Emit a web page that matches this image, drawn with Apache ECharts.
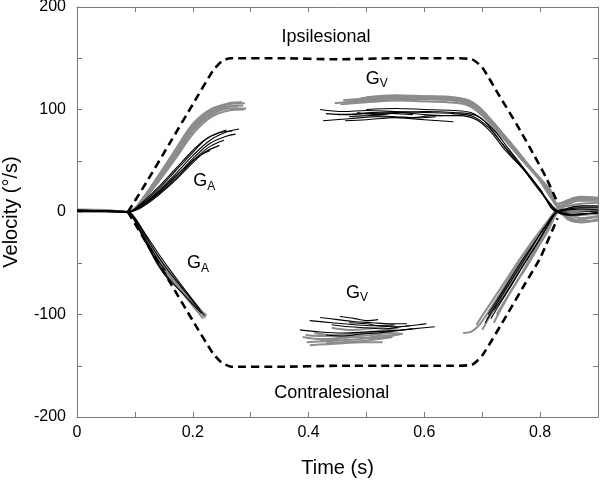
<!DOCTYPE html>
<html>
<head>
<meta charset="utf-8">
<script src="https://cdn.jsdelivr.net/npm/echarts@6/dist/echarts.min.js"></script>
<style>html,body{margin:0;padding:0;background:#fff}#c{width:600px;height:482px}</style>
</head>
<body>
<div id="c"></div>
<script>
// ---- axis tick labels ----
const xTickLabels = ['0', '0.2', '0.4', '0.6', '0.8'];
const yTickLabels = ['-200', '-100', '0', '100', '200'];

// ---- dashed envelope [time, velocity] ----
const envelopeUpper = [[0.088,0],[0.12,29],[0.16,67],[0.2,105],[0.235,138],[0.25,147],[0.265,150],[0.35,150],[0.45,149],[0.55,150],[0.65,150],[0.682,149],[0.7,141],[0.73,113],[0.76,85],[0.79,55],[0.81,34],[0.831,8]];
const envelopeLower = [[0.088,0],[0.12,-30],[0.16,-68],[0.2,-106],[0.235,-138],[0.25,-147],[0.268,-151],[0.35,-151],[0.45,-150],[0.55,-150],[0.65,-150],[0.682,-149],[0.7,-140],[0.744,-99],[0.774,-70],[0.8,-45],[0.83,-6]];

// ---- upper G_A (ipsilesional acceleration), grey ----
const gaUpGrey1 = [[0,1.5],[0.05,1],[0.088,0],[0.105,6],[0.14,33],[0.17,58],[0.2,84],[0.23,99],[0.262,105],[0.29,106]];
const gaUpGrey2 = [[0,2],[0.05,1.5],[0.088,0],[0.105,5],[0.14,31],[0.17,55],[0.2,80],[0.23,96],[0.262,103],[0.287,104]];
const gaUpGrey3 = [[0,0.5],[0.05,0.5],[0.088,0],[0.105,7],[0.14,35],[0.17,61],[0.2,86],[0.23,100],[0.262,106],[0.285,107]];
const gaUpGrey4 = [[0,1],[0.05,1],[0.088,0],[0.105,5],[0.14,29],[0.17,52],[0.2,76],[0.23,92],[0.262,99],[0.289,100]];
const gaUpGrey5 = [[0,2.5],[0.05,2],[0.088,0],[0.105,6],[0.14,33],[0.17,57],[0.2,82],[0.23,97],[0.258,103],[0.278,103]];
const gaUpGrey6 = [[0,1],[0.05,0.5],[0.088,0],[0.105,5],[0.14,30],[0.17,54],[0.2,79],[0.23,94],[0.262,101],[0.292,101]];
// ---- upper G_A, black ----
const gaUpBlack1 = [[0,1],[0.05,0.5],[0.088,0],[0.11,6],[0.14,20],[0.17,37],[0.2,55],[0.23,70],[0.258,78],[0.28,81]];
const gaUpBlack2 = [[0,1.5],[0.05,1],[0.088,0],[0.11,5],[0.14,18],[0.17,34],[0.2,52],[0.23,67],[0.258,74],[0.274,76]];
const gaUpBlack3 = [[0,0.5],[0.05,0.5],[0.088,0],[0.11,7],[0.14,22],[0.17,40],[0.2,58],[0.225,72],[0.258,80]];
const gaUpBlack4 = [[0,2],[0.05,1],[0.088,0],[0.11,4],[0.14,16],[0.17,31],[0.2,48],[0.22,58],[0.246,65]];
const gaUpBlack5 = [[0,1],[0.05,1],[0.088,0],[0.11,6],[0.14,19],[0.17,35],[0.2,50],[0.215,56],[0.23,60]];
const gaUpBlack6 = [[0,0.5],[0.05,0.5],[0.088,0],[0.11,5],[0.14,17],[0.17,32],[0.2,50],[0.23,64],[0.254,70]];
const gaUpBlack7 = [[0,1.5],[0.05,1],[0.088,0],[0.11,8],[0.14,24],[0.17,42],[0.2,60],[0.22,70],[0.245,77],[0.268,79]];

// ---- lower G_A (contralesional acceleration), grey ----
const gaLoGrey1 = [[0,1],[0.05,0.5],[0.088,0],[0.1,-7],[0.112,-20],[0.13,-38],[0.149,-54],[0.175,-71],[0.198,-87],[0.222,-103]];
const gaLoGrey2 = [[0,1.5],[0.05,1],[0.088,0],[0.1,-6],[0.112,-18],[0.13,-35],[0.149,-51],[0.175,-69],[0.198,-85],[0.22,-100]];
const gaLoGrey3 = [[0,0.5],[0.05,0.5],[0.088,0],[0.1,-8],[0.112,-22],[0.13,-40],[0.149,-57],[0.175,-74],[0.198,-90],[0.218,-104]];
const gaLoGrey4 = [[0,2],[0.05,1],[0.088,0],[0.1,-6],[0.112,-19],[0.13,-37],[0.149,-53],[0.175,-72],[0.2,-89],[0.224,-101]];
const gaLoGrey5 = [[0,1],[0.05,1],[0.088,0],[0.1,-7],[0.112,-21],[0.13,-39],[0.149,-55],[0.175,-70],[0.198,-86],[0.216,-98]];
// ---- lower G_A, black ----
const gaLoBlack1 = [[0,1],[0.05,0.5],[0.088,0],[0.1,-9],[0.12,-30],[0.14,-50],[0.16,-66],[0.18,-78],[0.2,-90],[0.215,-99]];
const gaLoBlack2 = [[0,1.5],[0.05,1],[0.088,0],[0.1,-8],[0.12,-28],[0.14,-47],[0.153,-57]];
const gaLoBlack3 = [[0,0.5],[0.05,0.5],[0.088,0],[0.1,-7],[0.12,-25],[0.14,-43],[0.16,-59],[0.18,-73],[0.2,-87],[0.22,-101]];
const gaLoBlack4 = [[0,1],[0.05,1],[0.088,0],[0.1,-9],[0.12,-31],[0.14,-52],[0.158,-66]];
const gaLoBlack5 = [[0,2],[0.05,1],[0.088,0],[0.1,-6],[0.12,-23],[0.14,-40],[0.16,-56],[0.18,-71],[0.2,-86],[0.212,-95]];

// ---- upper G_V (ipsilesional plateau & deceleration), grey ----
const gvUpGrey1 = [[0.455,105],[0.5,107],[0.55,109],[0.6,110],[0.65,109],[0.685,105],[0.713,90],[0.743,68],[0.777,46],[0.817,22],[0.83,8],[0.845,10],[0.86,14],[0.88,14],[0.9,13]];
const gvUpGrey2 = [[0.49,111],[0.53,113],[0.58,113],[0.63,112],[0.67,110],[0.695,102],[0.72,86],[0.75,66],[0.78,45],[0.815,22],[0.83,6],[0.85,8],[0.865,11],[0.9,11]];
const gvUpGrey3 = [[0.5,112],[0.55,114],[0.6,113],[0.65,112],[0.68,108],[0.705,96],[0.73,80],[0.76,60],[0.79,38],[0.82,16],[0.832,4],[0.85,-4],[0.865,-8],[0.885,-6],[0.9,-5]];
const gvUpGrey4 = [[0.47,108],[0.52,110],[0.57,111],[0.62,110],[0.66,108],[0.69,101],[0.715,87],[0.745,67],[0.775,47],[0.81,25],[0.83,5],[0.85,-2],[0.87,-6],[0.9,-4]];
const gvUpGrey5 = [[0.445,106],[0.49,108],[0.54,109],[0.59,108],[0.64,107],[0.675,104],[0.7,94],[0.73,76],[0.76,57],[0.795,34],[0.828,7],[0.845,3],[0.86,5],[0.9,5]];
const gvUpGrey6 = [[0.52,111],[0.57,112],[0.62,111],[0.66,110],[0.69,104],[0.715,90],[0.745,70],[0.78,46],[0.815,22],[0.83,8],[0.85,12],[0.87,15],[0.9,14]];
const gvUpGrey7 = [[0.46,109],[0.51,111],[0.56,112],[0.61,111],[0.655,110],[0.688,103],[0.712,89],[0.742,69],[0.772,49],[0.805,28],[0.83,4],[0.85,-7],[0.87,-10],[0.9,-8]];
// ---- upper G_V, black ----
const gvUpBlack1 = [[0.42,100],[0.46,98],[0.5,99],[0.55,98],[0.6,97],[0.65,96],[0.685,93],[0.71,83],[0.73,70],[0.75,55],[0.775,40],[0.8,22],[0.829,1],[0.845,2],[0.87,3],[0.9,2]];
const gvUpBlack2 = [[0.425,89],[0.47,91],[0.52,93],[0.57,92],[0.62,94],[0.66,94],[0.69,90],[0.715,78],[0.74,60],[0.77,42],[0.8,20],[0.83,0],[0.85,-3],[0.87,-2],[0.9,-1]];
const gvUpBlack3 = [[0.463,89],[0.5,90],[0.55,92],[0.6,90],[0.65,88]];
const gvUpBlack4 = [[0.484,97],[0.52,95],[0.56,97],[0.6,95],[0.63,94]];
const gvUpBlack5 = [[0.45,95],[0.5,96],[0.55,97],[0.6,98],[0.65,97],[0.69,94],[0.72,80],[0.745,62],[0.77,44],[0.8,22],[0.83,0],[0.85,4],[0.87,6],[0.9,6]];
const gvUpBlack6 = [[0.47,93],[0.51,94],[0.55,93],[0.59,92],[0.62,93]];
const gvUpBlack7 = [[0.43,96],[0.47,95],[0.51,97],[0.55,96],[0.58,95]];
const gvUpBlack8 = [[0.5,100],[0.55,101],[0.6,100],[0.65,99],[0.68,97],[0.705,88],[0.73,70],[0.76,50],[0.79,29],[0.83,1],[0.86,-3],[0.9,0]];

// ---- lower G_V (contralesional plateau), grey ----
const gvLoGrey1 = [[0.39,-122],[0.42,-124],[0.45,-123],[0.48,-121],[0.51,-120],[0.54,-118],[0.563,-119]];
const gvLoGrey2 = [[0.397,-127],[0.43,-126],[0.46,-125],[0.49,-124],[0.52,-121],[0.55,-120]];
const gvLoGrey3 = [[0.402,-130],[0.43,-129],[0.46,-128],[0.49,-127],[0.528,-127]];
const gvLoGrey4 = [[0.41,-118],[0.44,-120],[0.47,-119],[0.5,-117],[0.53,-116],[0.555,-113]];
const gvLoGrey5 = [[0.42,-125],[0.45,-124],[0.48,-122],[0.51,-123],[0.54,-121],[0.56,-119]];
const gvLoGrey6 = [[0.395,-120],[0.42,-121],[0.45,-121],[0.48,-120],[0.5,-118],[0.52,-117]];
const gvLoGrey7 = [[0.43,-128],[0.46,-127],[0.49,-126],[0.52,-124],[0.545,-122]];
const gvLoGrey8 = [[0.44,-113],[0.47,-115],[0.5,-114],[0.53,-112],[0.55,-110]];
// ---- lower G_V, black ----
const gvLoBlack1 = [[0.385,-115],[0.42,-117],[0.46,-118],[0.5,-117],[0.54,-116],[0.58,-114],[0.618,-112]];
const gvLoBlack2 = [[0.402,-106],[0.44,-108],[0.48,-110],[0.51,-111],[0.546,-110]];
const gvLoBlack3 = [[0.42,-103],[0.45,-105],[0.48,-107],[0.51,-108],[0.54,-109],[0.57,-109]];
const gvLoBlack4 = [[0.454,-102],[0.48,-104],[0.5,-106],[0.52,-105]];
const gvLoBlack5 = [[0.44,-110],[0.47,-112],[0.5,-113],[0.53,-114],[0.56,-112],[0.59,-110],[0.604,-109]];
const gvLoBlack6 = [[0.43,-120],[0.46,-121],[0.49,-119],[0.52,-118],[0.55,-116],[0.58,-114]];
const gvLoBlack7 = [[0.47,-108],[0.5,-109],[0.52,-111],[0.55,-112],[0.575,-111]];

// ---- contralesional deceleration (rising), grey ----
const riseGrey1 = [[0.667,-118],[0.68,-117],[0.695,-110],[0.71,-98],[0.73,-80],[0.75,-62],[0.77,-45],[0.79,-28],[0.81,-12],[0.83,2],[0.845,8],[0.86,13],[0.88,14],[0.9,13]];
const riseGrey2 = [[0.7,-115],[0.715,-100],[0.735,-82],[0.755,-64],[0.775,-47],[0.795,-30],[0.815,-13],[0.832,2],[0.85,-6],[0.865,-9],[0.9,-8]];
const riseGrey3 = [[0.708,-105],[0.725,-88],[0.745,-70],[0.765,-52],[0.785,-34],[0.805,-16],[0.83,3],[0.85,6],[0.87,8],[0.9,9]];
const riseGrey4 = [[0.72,-108],[0.735,-92],[0.755,-72],[0.775,-55],[0.795,-36],[0.815,-17],[0.832,0],[0.85,-4],[0.87,-3],[0.9,-2]];
const riseGrey5 = [[0.69,-110],[0.705,-97],[0.725,-80],[0.745,-63],[0.765,-46],[0.79,-26],[0.812,-10],[0.83,2],[0.85,10],[0.87,12],[0.9,12]];
const riseGrey6 = [[0.725,-100],[0.74,-86],[0.76,-68],[0.78,-48],[0.8,-28],[0.82,-10],[0.833,0],[0.85,-8],[0.87,-10],[0.9,-7]];
// ---- rising, black ----
const riseBlack1 = [[0.705,-108],[0.72,-94],[0.74,-76],[0.76,-58],[0.78,-40],[0.8,-22],[0.815,-10],[0.83,1],[0.85,3],[0.87,4],[0.9,4]];
const riseBlack2 = [[0.71,-100],[0.728,-84],[0.748,-66],[0.768,-48],[0.79,-30],[0.81,-13],[0.83,0],[0.85,-2],[0.9,-1]];
const riseBlack3 = [[0.715,-104],[0.73,-90],[0.75,-72],[0.77,-53],[0.79,-35],[0.81,-16],[0.83,0],[0.85,2],[0.9,2]];
const riseBlack4 = [[0.72,-96],[0.74,-80],[0.76,-62],[0.78,-44],[0.8,-26],[0.818,-9],[0.83,0],[0.86,0],[0.9,1]];

// ---- annotation anchors [time, velocity] ----
const annotations = [
  {text: 'Ipsilesional', at: [0.43, 171]},
  {text: 'Contralesional', at: [0.44, -177]},
];
const subLabels = [
  {main: 'G', sub: 'V', at: [0.523, 130]},
  {main: 'G', sub: 'V', at: [0.489, -79]},
  {main: 'G', sub: 'A', at: [0.225, 30]},
  {main: 'G', sub: 'A', at: [0.214, -50]},
];

const greyTraces = [gaUpGrey1,gaUpGrey2,gaUpGrey3,gaUpGrey4,gaUpGrey5,gaUpGrey6,
  gaLoGrey1,gaLoGrey2,gaLoGrey3,gaLoGrey4,gaLoGrey5,
  gvUpGrey1,gvUpGrey2,gvUpGrey3,gvUpGrey4,gvUpGrey5,gvUpGrey6,gvUpGrey7,
  gvLoGrey1,gvLoGrey2,gvLoGrey3,gvLoGrey4,gvLoGrey5,gvLoGrey6,gvLoGrey7,gvLoGrey8,
  riseGrey1,riseGrey2,riseGrey3,riseGrey4,riseGrey5,riseGrey6];
const blackTraces = [gaUpBlack1,gaUpBlack2,gaUpBlack3,gaUpBlack4,gaUpBlack5,gaUpBlack6,gaUpBlack7,
  gaLoBlack1,gaLoBlack2,gaLoBlack3,gaLoBlack4,gaLoBlack5,
  gvUpBlack1,gvUpBlack2,gvUpBlack3,gvUpBlack4,gvUpBlack5,gvUpBlack6,gvUpBlack7,gvUpBlack8,
  gvLoBlack1,gvLoBlack2,gvLoBlack3,gvLoBlack4,gvLoBlack5,gvLoBlack6,gvLoBlack7,
  riseBlack1,riseBlack2,riseBlack3,riseBlack4];

const FONT = 'Liberation Sans, Arial, sans-serif';
const AXIS_COLOR = '#7a7a7a';

const series = [];
greyTraces.forEach(d => series.push({type:'line', data:d, smooth:0.35, symbol:'none', silent:true,
  lineStyle:{color:'#8c8c8c', width:2}, z:2}));
blackTraces.forEach(d => series.push({type:'line', data:d, smooth:0.35, symbol:'none', silent:true,
  lineStyle:{color:'#000', width:1.1}, z:3}));
[envelopeUpper, envelopeLower].forEach(d => series.push({type:'line', data:d, smooth:0.2, symbol:'none', silent:true,
  lineStyle:{color:'#000', width:2.6, type:[8,5]}, z:4}));

const chart = echarts.init(document.getElementById('c'), null, {renderer:'canvas'});
const baseX = {type:'value', min:0, max:0.9, interval:0.1, splitLine:{show:false},
  axisLine:{onZero:false, lineStyle:{color:AXIS_COLOR, width:1}}};
const baseY = {type:'value', min:-200, max:200, interval:50, splitLine:{show:false},
  axisLine:{onZero:false, lineStyle:{color:AXIS_COLOR, width:1}}};
chart.setOption({
  animation:false,
  backgroundColor:'#fff',
  grid:{left:77, right:2, top:7, bottom:65, containLabel:false, outerBoundsMode:'none'},
  xAxis:[
    Object.assign({}, baseX, {position:'bottom',
      axisTick:{inside:true, length:5, lineStyle:{color:AXIS_COLOR}},
      axisLabel:{color:'#000', fontFamily:FONT, fontSize:16, margin:8,
        formatter: v => { const s = (Math.round(v*10)/10).toString(); return xTickLabels.includes(s) ? s : ''; }},
      name:'Time (s)', nameLocation:'middle', nameGap:41,
      nameTextStyle:{color:'#000', fontFamily:FONT, fontSize:20}}),
    Object.assign({}, baseX, {position:'top',
      axisTick:{inside:true, length:5, lineStyle:{color:AXIS_COLOR}}, axisLabel:{show:false}})
  ],
  yAxis:[
    Object.assign({}, baseY, {position:'left',
      axisTick:{inside:true, length:5, lineStyle:{color:AXIS_COLOR}},
      axisLabel:{color:'#000', fontFamily:FONT, fontSize:16, margin:11,
        formatter: v => { const s = Math.round(v).toString(); return yTickLabels.includes(s) ? s : ''; }},
      name:'Velocity (°/s)', nameLocation:'middle', nameGap:56, nameRotate:90,
      nameTextStyle:{color:'#000', fontFamily:FONT, fontSize:20}}),
    Object.assign({}, baseY, {position:'right',
      axisTick:{inside:true, length:5, lineStyle:{color:AXIS_COLOR}}, axisLabel:{show:false}})
  ],
  series: series
});

// annotations placed by data coordinates
const graphics = [];
annotations.forEach(a => {
  const p = chart.convertToPixel({gridIndex:0}, a.at);
  graphics.push({type:'text', x:p[0], y:p[1], silent:true,
    style:{text:a.text, fill:'#000', font:'18px ' + FONT, textAlign:'center', textVerticalAlign:'middle'}});
});
subLabels.forEach(a => {
  const p = chart.convertToPixel({gridIndex:0}, a.at);
  graphics.push({type:'text', x:p[0], y:p[1], silent:true,
    style:{text:a.main, fill:'#000', font:'18px ' + FONT, textAlign:'right', textVerticalAlign:'middle'}});
  graphics.push({type:'text', x:p[0], y:p[1] + 5, silent:true,
    style:{text:a.sub, fill:'#000', font:'12px ' + FONT, textAlign:'left', textVerticalAlign:'middle'}});
});
chart.setOption({graphic:graphics});
</script>
</body>
</html>
